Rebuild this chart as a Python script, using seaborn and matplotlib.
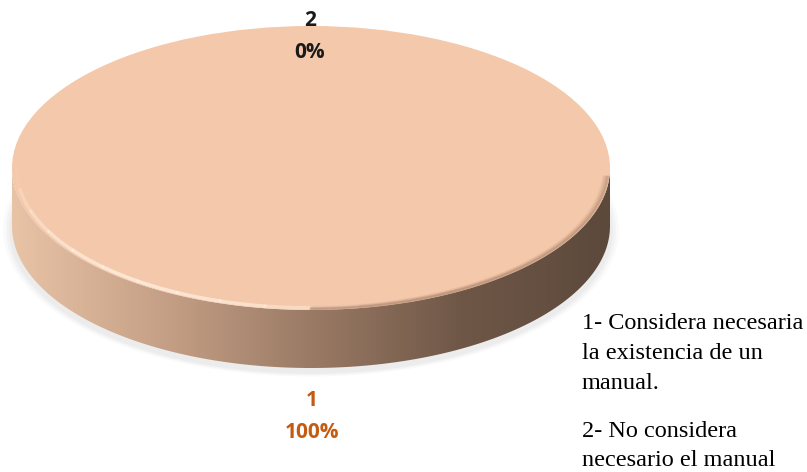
import numpy as np
import matplotlib
matplotlib.use("Agg")
import matplotlib.pyplot as plt
import seaborn as sns
from matplotlib.patches import Polygon

sns.set_theme(style="white")

# data
categorias = ["1", "2"]
valores = [100, 0]
descripciones = ["1- Considera necesaria\nla existencia de un\nmanual.",
                 "2- No considera\nnecesario el manual"]

W, H = 807, 472
fig = plt.figure(figsize=(W / 100, H / 100), dpi=100)
ax = fig.add_axes([0, 0, 1, 1])

# ellipse geometry in pixels -> radius units
cx, cy, rx, ry, depth = 311, 168, 299, 142, 58
d = depth / ry

# soft shadow under the disc
t = np.linspace(0, 2 * np.pi, 200)
for k, a in zip([1.03, 1.02, 1.01], [0.04, 0.05, 0.06]):
    ax.fill(k * np.cos(t), k * np.sin(t) - d - 0.03, color="#808080", alpha=a, lw=0, zorder=0)

# side of the disc with horizontal shading
ang = np.linspace(np.pi, 2 * np.pi, 200)
upper = np.column_stack([np.cos(ang), np.sin(ang)])
lower = np.column_stack([np.cos(ang[::-1]), np.sin(ang[::-1]) - d])
side = Polygon(np.vstack([upper, lower]), closed=True, facecolor="none", lw=0)
ax.add_patch(side)
cmap = sns.blend_palette(["#e8c3a6", "#c6a086", "#9a7a65", "#6f5747", "#5c493b"], as_cmap=True)
grad = np.linspace(0, 1, 256).reshape(1, -1)
img = ax.imshow(grad, cmap=cmap, extent=(-1, 1, -1 - d - 0.01, 0.01), aspect="auto", zorder=1)
img.set_clip_path(side)

# top face
ax.pie(valores, colors=["#f4c8aa", "#f4c8aa"], radius=1, startangle=90,
       counterclock=False, wedgeprops=dict(linewidth=0, zorder=2))

# rim highlight (left) and bevel shade (right) on the top face
edges = np.linspace(1.0, 1.6, 13)
for i in range(12):
    seg = np.linspace(edges[i], edges[i + 1], 10) * np.pi
    a = 0.75 * np.sin(np.pi * (i + 0.5) / 12)
    ax.plot(0.985 * np.cos(seg), 0.985 * np.sin(seg), color="#fff0e2", lw=2.5, alpha=a, zorder=3)
rim2 = np.linspace(-0.5 * np.pi, -0.02 * np.pi, 100)
for r, a in zip([0.995, 0.99, 0.985, 0.98], [0.35, 0.25, 0.15, 0.08]):
    ax.plot(r * np.cos(rim2), r * np.sin(rim2), color="#a07860", lw=2, alpha=a, zorder=3)

ax.set_aspect("auto")
ax.set_xlim(-cx / rx, (W - cx) / rx)
ax.set_ylim(-(H - cy) / ry, cy / ry)
ax.axis("off")

# data labels
total = sum(valores)
pos = {"1": (312, 401, "#c55a11"), "2": (310, 20, "#1a1a1a")}
for cat, v in zip(categorias, valores):
    x, y, c = pos[cat]
    fig.text(x / W, 1 - y / H, cat, ha="center", va="center", fontsize=15,
             fontweight="bold", color=c, family="Open Sans")
    fig.text(x / W, 1 - (y + 32) / H, f"{v / total:.0%}", ha="center", va="center",
             fontsize=15, fontweight="bold", color=c, family="Open Sans")

# legend text
fig.text(582 / W, 1 - 313 / H, descripciones[0], ha="left", va="top", fontsize=17.5,
         family="Liberation Serif", color="black", linespacing=1.56)
fig.text(582 / W, 1 - 421 / H, descripciones[1], ha="left", va="top", fontsize=17.5,
         family="Liberation Serif", color="black", linespacing=1.52)

fig.savefig("out.png", dpi=100)
